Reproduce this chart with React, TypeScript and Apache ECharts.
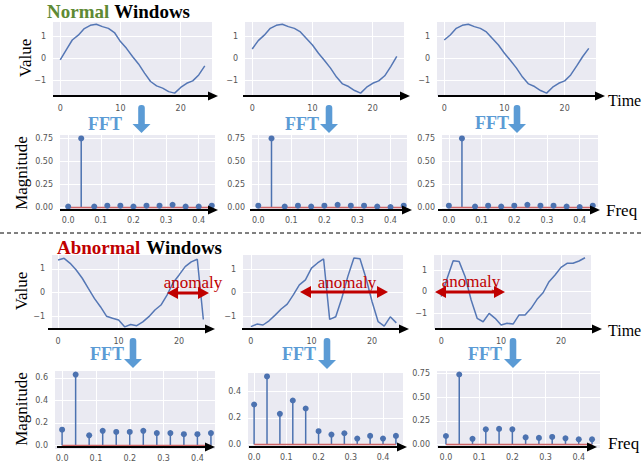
import React, { useEffect, useRef } from "react";
import * as echarts from "echarts";

// ---------- data ----------
const timeSteps = [0, 1, 2, 3, 4, 5, 6, 7, 8, 9, 10, 11, 12, 13, 14, 15, 16, 17, 18, 19, 20, 21, 22, 23, 24];
const freqBins = [0, 0.04, 0.08, 0.12, 0.16, 0.2, 0.24, 0.28, 0.32, 0.36, 0.4, 0.44];

const normalWindow1 = [-0.08, 0.38, 0.83, 1.05, 1.35, 1.5, 1.55, 1.44, 1.36, 1.17, 0.76, 0.45, 0.08, -0.26, -0.68, -1.06, -1.26, -1.36, -1.52, -1.59, -1.33, -1.14, -1.03, -0.76, -0.35];
const normalWindow2 = [0.42, 0.8, 1.05, 1.36, 1.5, 1.55, 1.44, 1.36, 1.2, 0.9, 0.6, 0.23, -0.1, -0.45, -0.86, -1.17, -1.29, -1.47, -1.59, -1.32, -1.14, -1.03, -0.8, -0.38, 0.08];
const normalWindow3 = [0.83, 1.06, 1.36, 1.5, 1.55, 1.44, 1.36, 1.2, 0.9, 0.6, 0.23, -0.1, -0.45, -0.86, -1.17, -1.29, -1.47, -1.59, -1.32, -1.14, -1.03, -0.76, -0.35, 0.08, 0.45];

const normalFFT1 = [0.01, 0.75, 0.01, 0.02, 0.02, 0.01, 0.02, 0.02, 0.03, 0.01, 0.01, 0.02];
const normalFFT2 = [0.02, 0.75, 0.01, 0.02, 0.01, 0.02, 0.03, 0.02, 0.02, 0.01, 0.005, 0.02];
const normalFFT3 = [0.02, 0.75, 0.01, 0.02, 0.01, 0.02, 0.03, 0.02, 0.02, 0.01, 0.005, 0.02];

const abnormalWindow1 = [1.38, 1.45, 1.24, 0.96, 0.61, 0.18, -0.24, -0.59, -0.99, -1.08, -1.15, -1.44, -1.34, -1.39, -1.23, -1.01, -0.73, -0.52, -0.1, 0.42, 0.75, 1.1, 1.3, 1.41, -1.13];
const abnormalWindow2 = [-1.45, -1.34, -1.38, -1.2, -0.96, -0.7, -0.49, -0.1, 0.33, 0.54, 1.04, 1.26, 1.43, -1.14, -1.03, -0.24, 0.69, 1.47, 1.44, 0.61, -0.39, -1.24, -1.43, -1.03, -1.29];
const abnormalWindow3 = [-0.23, 0.63, 1.45, 1.41, 0.7, -0.39, -1.25, -1.41, -1.02, -1.25, -1.56, -1.48, -1.52, -1.09, -1.09, -0.78, -0.36, -0.05, 0.47, 0.78, 1.14, 1.33, 1.33, 1.44, 1.59];

const abnormalFFT1 = [0.14, 0.63, 0.09, 0.13, 0.12, 0.12, 0.13, 0.11, 0.11, 0.1, 0.1, 0.11];
const abnormalFFT2 = [0.3, 0.51, 0.23, 0.33, 0.27, 0.1, 0.075, 0.085, 0.045, 0.065, 0.045, 0.065];
const abnormalFFT3 = [0.09, 0.74, 0.06, 0.16, 0.165, 0.16, 0.075, 0.07, 0.08, 0.065, 0.055, 0.055];

const timeTicks = [0, 10, 20];
const valueTicks = [-1, 0, 1];
const freqTicks = [0, 0.1, 0.2, 0.3, 0.4];
const magTicksQuarter = [0, 0.25, 0.5, 0.75];
const magTicksA1 = [0, 0.2, 0.4, 0.6];
const magTicksA2 = [0, 0.2, 0.4];

// ---------- layout ----------
type Panel = {
  kind: "time" | "fft";
  grid: [number, number, number, number];
  x: [number, number];
  y: [number, number];
  values: number[];
  yTicks: number[];
  yDec: number;
  xMargin: number;
};

const panels: Panel[] = [
  { kind: "time", grid: [53, 22, 159, 74], x: [-1.2, 25.2], y: [-1.72, 1.65], values: normalWindow1, yTicks: valueTicks, yDec: 0, xMargin: 8 },
  { kind: "time", grid: [245, 22, 159, 74], x: [-1.2, 25.2], y: [-1.72, 1.65], values: normalWindow2, yTicks: valueTicks, yDec: 0, xMargin: 8 },
  { kind: "time", grid: [437, 22, 159, 74], x: [-1.2, 25.2], y: [-1.72, 1.65], values: normalWindow3, yTicks: valueTicks, yDec: 0, xMargin: 8 },
  { kind: "fft", grid: [60, 135, 155, 76], x: [-0.025, 0.45], y: [-0.0375, 0.7875], values: normalFFT1, yTicks: magTicksQuarter, yDec: 2, xMargin: 5 },
  { kind: "fft", grid: [252, 135, 155, 76], x: [-0.019, 0.45], y: [-0.0375, 0.7875], values: normalFFT2, yTicks: magTicksQuarter, yDec: 2, xMargin: 5 },
  { kind: "fft", grid: [442, 135, 156, 76], x: [-0.021, 0.456], y: [-0.0375, 0.7875], values: normalFFT3, yTicks: magTicksQuarter, yDec: 2, xMargin: 5 },
  { kind: "time", grid: [52, 255, 158, 74], x: [-1.0, 25.1], y: [-1.53, 1.59], values: abnormalWindow1, yTicks: valueTicks, yDec: 0, xMargin: 8 },
  { kind: "time", grid: [243, 255, 160, 74], x: [-1.3, 25.1], y: [-1.55, 1.6], values: abnormalWindow2, yTicks: valueTicks, yDec: 0, xMargin: 8 },
  { kind: "time", grid: [434, 255, 157, 74], x: [-1.2, 25.0], y: [-1.75, 1.72], values: abnormalWindow3, yTicks: valueTicks, yDec: 0, xMargin: 8 },
  { kind: "fft", grid: [55, 371, 160, 78], x: [-0.021, 0.452], y: [-0.0315, 0.6615], values: abnormalFFT1, yTicks: magTicksA1, yDec: 1, xMargin: 5 },
  { kind: "fft", grid: [248, 373, 155, 75], x: [-0.019, 0.462], y: [-0.0255, 0.5355], values: abnormalFFT2, yTicks: magTicksA2, yDec: 1, xMargin: 5 },
  { kind: "fft", grid: [437, 371, 163, 77], x: [-0.027, 0.464], y: [-0.037, 0.777], values: abnormalFFT3, yTicks: magTicksQuarter, yDec: 2, xMargin: 5 },
];

const BLUE = "#4c72b0";
const LINE_BLUE = "#5577b5";
const BASE_RED = "#cf6466";
const ARROW_BLUE = "#5b9bd5";
const RED = "#c00000";
const GREEN = "#5e8a34";
const SERIF = '"Liberation Serif", "Times New Roman", serif';
const SANS = '"DejaVu Sans", sans-serif';

const fmtSigned = (v: number, dec: number) => {
  const s = Math.abs(v).toFixed(dec);
  return v < 0 ? "\u2212" + s : s;
};

function blackArrow(x1: number, x2: number, y: number) {
  return [
    { type: "line", z: 100, shape: { x1, y1: y, x2: x2 - 6, y2: y }, style: { stroke: "#000", lineWidth: 2 } },
    { type: "polygon", z: 100, shape: { points: [[x2, y], [x2 - 10, y - 4.5], [x2 - 10, y + 4.5]] }, style: { fill: "#000" } },
  ];
}

function blueArrow(x: number, y1: number, y2: number) {
  return [
    { type: "rect", z: 100, shape: { x: x - 3.3, y: y1, width: 6.6, height: y2 - y1 - 8, r: [3, 3, 0, 0] }, style: { fill: ARROW_BLUE } },
    { type: "polygon", z: 100, shape: { points: [[x - 9, y2 - 9], [x + 9, y2 - 9], [x, y2]] }, style: { fill: ARROW_BLUE } },
  ];
}

function redDoubleArrow(x1: number, x2: number, y: number) {
  return [
    { type: "line", z: 100, shape: { x1: x1 + 8, y1: y, x2: x2 - 8, y2: y }, style: { stroke: RED, lineWidth: 3 } },
    { type: "polygon", z: 100, shape: { points: [[x1, y], [x1 + 11, y - 6], [x1 + 11, y + 6]] }, style: { fill: RED } },
    { type: "polygon", z: 100, shape: { points: [[x2, y], [x2 - 11, y - 6], [x2 - 11, y + 6]] }, style: { fill: RED } },
  ];
}

function text(t: string, x: number, y: number, opts: any) {
  return {
    type: "text",
    z: 100,
    x,
    y,
    rotation: opts.rotation || 0,
    style: {
      text: t,
      fill: opts.fill || "#000",
      fontSize: opts.fontSize || 17,
      fontFamily: opts.fontFamily || SERIF,
      fontWeight: opts.fontWeight || "normal",
      align: opts.align || "left",
      verticalAlign: "middle",
    },
  };
}

function buildOption() {
  const grid = panels.map((p) => ({
    left: p.grid[0],
    top: p.grid[1],
    width: p.grid[2],
    height: p.grid[3],
    show: true,
    backgroundColor: "#eaeaf2",
    borderWidth: 0,
  }));

  const xAxis = panels.map((p, i) => {
    const ticks = p.kind === "time" ? timeTicks : freqTicks;
    return {
      type: "value",
      gridIndex: i,
      min: p.x[0],
      max: p.x[1],
      axisLine: { show: false },
      axisTick: { show: false, customValues: ticks },
      axisLabel: {
        customValues: ticks,
        formatter: (v: number) => (p.kind === "time" ? String(v) : v.toFixed(1)),
        fontSize: 8,
        fontFamily: SANS,
        color: "#555",
        margin: p.xMargin,
      },
      splitLine: { show: true, lineStyle: { color: "#ffffff", width: 1 } },
    };
  });

  const yAxis = panels.map((p, i) => ({
    type: "value",
    gridIndex: i,
    min: p.y[0],
    max: p.y[1],
    axisLine: { show: false },
    axisTick: { show: false, customValues: p.yTicks },
    axisLabel: {
      customValues: p.yTicks,
      formatter: (v: number) => fmtSigned(v, p.yDec),
      fontSize: 8,
      fontFamily: SANS,
      color: "#555",
      margin: 7,
    },
    splitLine: { show: true, lineStyle: { color: "#ffffff", width: 1 } },
  }));

  const series: any[] = [];
  panels.forEach((p, i) => {
    if (p.kind === "time") {
      series.push({
        type: "line",
        xAxisIndex: i,
        yAxisIndex: i,
        data: timeSteps.map((t, k) => [t, p.values[k]]),
        symbol: "none",
        lineStyle: { color: LINE_BLUE, width: 1.5 },
        z: 3,
      });
    } else {
      series.push({
        type: "bar",
        xAxisIndex: i,
        yAxisIndex: i,
        data: freqBins.map((f, k) => [f, p.values[k]]),
        barWidth: 1.5,
        itemStyle: { color: BLUE },
        z: 2,
      });
      series.push({
        type: "line",
        xAxisIndex: i,
        yAxisIndex: i,
        data: [
          [freqBins[0], 0],
          [freqBins[freqBins.length - 1], 0],
        ],
        symbol: "none",
        lineStyle: { color: BASE_RED, width: 1.5 },
        z: 3,
      });
      series.push({
        type: "scatter",
        xAxisIndex: i,
        yAxisIndex: i,
        data: freqBins.map((f, k) => [f, p.values[k]]),
        symbolSize: 6,
        itemStyle: { color: BLUE, opacity: 1 },
        z: 4,
      });
    }
  });

  const graphic: any[] = [
    // titles
    text("Normal", 47, 11, { fontSize: 19, fontWeight: "bold", fill: GREEN }),
    text("Windows", 190, 11, { fontSize: 19, fontWeight: "bold", align: "right" }),
    text("Abnormal", 57, 247, { fontSize: 19, fontWeight: "bold", fill: RED }),
    text("Windows", 222, 247, { fontSize: 19, fontWeight: "bold", align: "right" }),
    // y axis titles
    text("Value", 25, 58, { rotation: Math.PI / 2, align: "center" }),
    text("Magnitude", 21, 173, { rotation: Math.PI / 2, align: "center" }),
    text("Value", 21, 291, { rotation: Math.PI / 2, align: "center" }),
    text("Magnitude", 21, 409, { rotation: Math.PI / 2, align: "center" }),
    // axis end labels
    text("Time", 608, 100, { fontSize: 16 }),
    text("Freq", 606, 210, {}),
    text("Time", 608, 330, { fontSize: 16 }),
    text("Freq", 608, 443, {}),
    // FFT labels
    text("FFT", 105, 124, { fontSize: 18, fontWeight: "bold", fill: ARROW_BLUE, align: "center" }),
    text("FFT", 302, 124, { fontSize: 18, fontWeight: "bold", fill: ARROW_BLUE, align: "center" }),
    text("FFT", 492, 123, { fontSize: 18, fontWeight: "bold", fill: ARROW_BLUE, align: "center" }),
    text("FFT", 107, 354, { fontSize: 18, fontWeight: "bold", fill: ARROW_BLUE, align: "center" }),
    text("FFT", 299, 354, { fontSize: 18, fontWeight: "bold", fill: ARROW_BLUE, align: "center" }),
    text("FFT", 485, 354, { fontSize: 18, fontWeight: "bold", fill: ARROW_BLUE, align: "center" }),
    // anomaly labels
    text("anomaly", 193, 282, { fill: RED, align: "center" }),
    text("anomaly", 347, 282, { fill: RED, align: "center" }),
    text("anomaly", 471, 281, { fill: RED, align: "center" }),
    // dashed separator
    { type: "line", z: 100, shape: { x1: 0, y1: 233, x2: 642, y2: 233 }, style: { stroke: "#000", lineWidth: 1, lineDash: [4, 3] } },
    ...blackArrow(53, 218, 96),
    ...blackArrow(243, 410, 96),
    ...blackArrow(438, 605, 96),
    ...blackArrow(60, 218, 210),
    ...blackArrow(250, 412, 210),
    ...blackArrow(438, 600, 210),
    ...blackArrow(48, 215, 329),
    ...blackArrow(242, 409, 329),
    ...blackArrow(435, 602, 329),
    ...blackArrow(57, 215, 447),
    ...blackArrow(249, 407, 447),
    ...blackArrow(438, 597, 447),
    ...blueArrow(141.5, 105, 133),
    ...blueArrow(329, 105, 133),
    ...blueArrow(517, 105, 133),
    ...blueArrow(133, 338, 368),
    ...blueArrow(327, 338, 369),
    ...blueArrow(513, 338, 368),
    ...redDoubleArrow(167, 209, 293),
    ...redDoubleArrow(300, 388, 292),
    ...redDoubleArrow(435, 505, 292),
  ];

  return {
    animation: false,
    backgroundColor: "#ffffff",
    grid,
    xAxis,
    yAxis,
    series,
    graphic,
  };
}

export default function App() {
  const ref = useRef<HTMLDivElement>(null);
  useEffect(() => {
    if (!ref.current) return;
    const chart = echarts.init(ref.current, undefined, { renderer: "svg" });
    chart.setOption(buildOption() as any);
    return () => chart.dispose();
  }, []);
  return (
    <div
      ref={ref}
      style={{ position: "fixed", left: 0, top: 0, width: 642, height: 464, background: "#fff" }}
    />
  );
}
